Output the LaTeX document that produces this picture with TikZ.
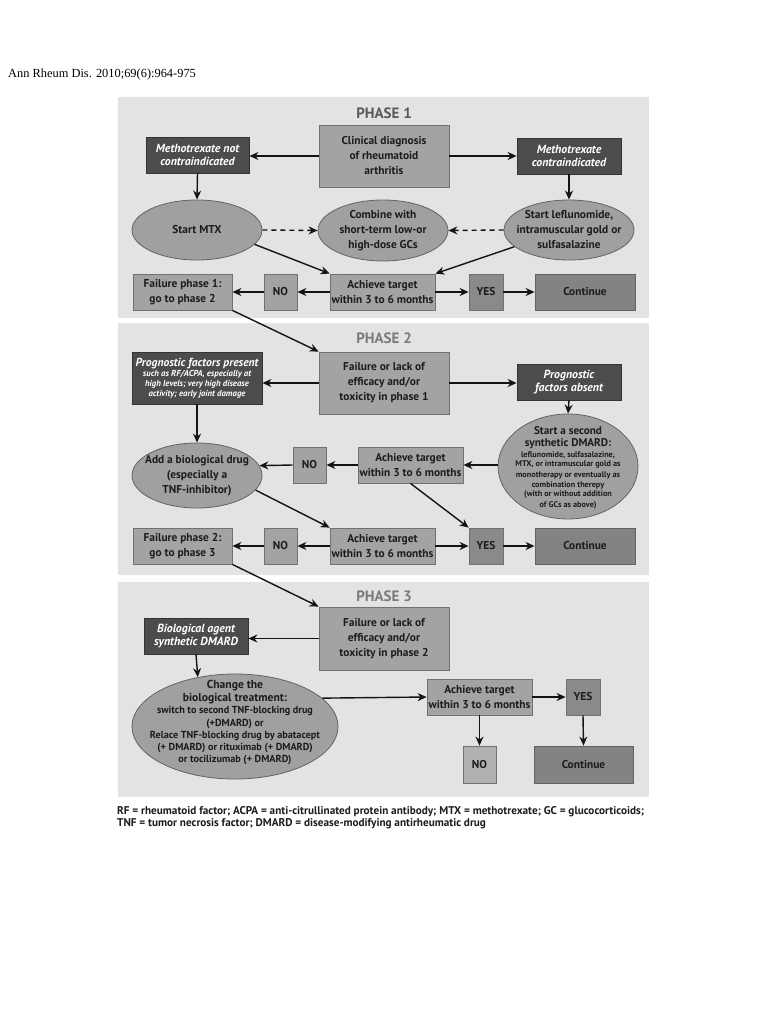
\documentclass[tikz,border=0pt]{standalone}
\usepackage{fontspec}
\setmainfont{PT Sans}
\newfontfamily\serifhdr{Liberation Serif}
\usetikzlibrary{shapes.geometric,arrows.meta}
\definecolor{panelgray}{HTML}{E3E3E3}
\definecolor{midgray}{HTML}{A3A3A3}
\definecolor{midborder}{HTML}{717171}
\definecolor{ellgray}{HTML}{A0A0A0}
\definecolor{ellborder}{HTML}{636363}
\definecolor{darkgray}{HTML}{4C4C4C}
\definecolor{darkborder}{HTML}{333333}
\definecolor{yesgray}{HTML}{8A8A8A}
\definecolor{contgray}{HTML}{838383}
\definecolor{txtgray}{HTML}{1C1C1C}
\definecolor{titleA}{HTML}{5A5A5A}
\definecolor{titleB}{HTML}{7A7A7A}
\newcommand\bigf{\fontsize{11.2}{12.8}\selectfont}
\newcommand\smallf{\fontsize{8.2}{10}\selectfont}
\newcommand\medf{\fontsize{10.2}{12.3}\selectfont}
\begin{document}
\begin{tikzpicture}[x=1pt,y=-1pt,
  panel/.style={fill=panelgray, draw=none},
  ptitle/.style={font=\bfseries\fontsize{15}{17}\selectfont, inner sep=0},
  midbox/.style={rectangle, draw=midborder, fill=midgray, line width=0.8pt, inner sep=0,
     text=txtgray, align=center, font=\bfseries\fontsize{11.4}{15}\selectfont},
  yesbox/.style={midbox, fill=yesgray},
  contbox/.style={midbox, fill=contgray, draw=ellborder},
  darkbox/.style={rectangle, draw=darkborder, fill=darkgray, line width=0.8pt, inner sep=0,
     text=white, align=center, font=\bfseries\itshape\fontsize{11.8}{13.5}\selectfont},
  ell/.style={ellipse, draw=ellborder, fill=ellgray, line width=0.8pt, inner sep=0},
  etext/.style={text=txtgray, align=center, inner sep=0, font=\bfseries\fontsize{11.4}{15}\selectfont},
  arr/.style={draw=black!92, line width=1.4pt, -{Stealth[length=9pt,width=8pt]}},
  darr/.style={arr, dash pattern=on 5pt off 4pt}]
\useasboundingbox (0,0) rectangle (768,1024);
\fill[white] (0,0) rectangle (768,1024);

% header
\node[anchor=base west, inner sep=0, font=\serifhdr\fontsize{12.4}{14}\selectfont] (hdr) at (8,78) {Ann Rheum Dis. 2010;69(6):964-975};

% panels
\path[panel] (118,97) rectangle (649,318);
\path[panel] (118,323) rectangle (649,575);
\path[panel] (118,582) rectangle (649,797);

% ---------------- PHASE 1
\node[ptitle, text=titleA] (t1) at (384,113) {PHASE 1};
\node[midbox, minimum width=130, minimum height=62] (clin) at (384,156) {Clinical diagnosis\\of rheumatoid\\arthritis};
\node[darkbox, minimum width=103, minimum height=36] (mtxno) at (197.5,155) {Methotrexate not\\contraindicated};
\node[darkbox, minimum width=104, minimum height=36] (mtxc) at (569,156) {Methotrexate\\contraindicated};
\node[ell, minimum width=130, minimum height=60] (smtx) at (197,230) {};
\node[etext] (smtxt) at (smtx) {Start MTX};
\node[ell, minimum width=130, minimum height=61] (comb) at (383,230.5) {};
\node[etext] (combt) at (comb) {Combine with\\short-term low-or\\high-dose GCs};
\node[ell, minimum width=130, minimum height=60] (slef) at (569,230) {};
\node[etext] (sleft) at (slef) {Start leflunomide,\\intramuscular gold or\\sulfasalazine};
\node[midbox, minimum width=105, minimum height=36] (ach1) at (382.5,292) {Achieve target\\within 3 to 6 months};
\node[midbox, minimum width=33, minimum height=36] (no1) at (280.5,292) {NO};
\node[yesbox, minimum width=34, minimum height=36] (yes1) at (486,292) {YES};
\node[contbox, minimum width=100, minimum height=36] (cont1) at (585,292) {Continue};
\node[midbox, minimum width=99, minimum height=36] (fail1) at (182.5,292) {Failure phase 1:\\go to phase 2};

% ---------------- PHASE 2
\node[ptitle, text=titleB] (t2) at (384,338) {PHASE 2};
\node[midbox, minimum width=130, minimum height=62] (fl2) at (384,383) {Failure or lack of\\efficacy and/or\\toxicity in phase 1};
\node[darkbox, minimum width=130, minimum height=52, text width=130, align=flush center] (ppres) at (197,378)
  {{\fontsize{11.6}{13}\selectfont Prognostic factors present\par}{\fontsize{8.7}{10}\selectfont such as RF/ACPA, especially at\\high levels; very high disease\\activity; early joint damage\par}};
\node[darkbox, minimum width=104, minimum height=36] (pabs) at (569,382) {Prognostic\\factors absent};
\node[ell, minimum width=130, minimum height=65] (addbio) at (197,475.5) {};
\node[etext] (addbiot) at (addbio) {Add a biological drug\\(especially a\\TNF-inhibitor)};
\node[ell, minimum width=140, minimum height=105] (start2) at (568,466.5) {};
\node[etext, text width=140, align=flush center] (start2t) at (568,467.5)
  {{\bigf Start a second\\synthetic DMARD:\par}{\smallf leflunomide, sulfasalazine,\\MTX, or intramuscular gold as\\monotherapy or eventually as\\combination therepy\\(with or without addition\\of GCs as above)\par}};
\node[midbox, minimum width=105, minimum height=36] (ach2m) at (410.5,465) {Achieve target\\within 3 to 6 months};
\node[midbox, minimum width=33, minimum height=36] (no2m) at (309.5,465) {NO};
\node[midbox, minimum width=105, minimum height=36] (ach2b) at (382.5,546) {Achieve target\\within 3 to 6 months};
\node[midbox, minimum width=33, minimum height=36] (no2b) at (280.5,546) {NO};
\node[yesbox, minimum width=34, minimum height=36] (yes2) at (486,546) {YES};
\node[contbox, minimum width=100, minimum height=36] (cont2) at (585,546) {Continue};
\node[midbox, minimum width=99, minimum height=36] (fail2) at (182.5,546) {Failure phase 2:\\go to phase 3};

% ---------------- PHASE 3
\node[ptitle, text=titleB] (t3) at (384,596) {PHASE 3};
\node[midbox, minimum width=130, minimum height=63] (fl3) at (384,638.5) {Failure or lack of\\efficacy and/or\\toxicity in phase 2};
\node[darkbox, minimum width=104, minimum height=36] (bio) at (196,636) {Biological agent\\synthetic DMARD};
\node[ell, minimum width=206, minimum height=105] (change) at (235,726.5) {};
\node[etext, text width=206, align=flush center] (changet) at (235,722.5)
  {{\fontsize{11.6}{13.3}\selectfont Change the\\biological treatment:\par}{\medf switch to second TNF-blocking drug\\(+DMARD) or\\Relace TNF-blocking drug by abatacept\\(+ DMARD) or rituximab (+ DMARD)\\or tocilizumab (+ DMARD)\par}};
\node[midbox, minimum width=105, minimum height=36] (ach3) at (479.5,697) {Achieve target\\within 3 to 6 months};
\node[yesbox, minimum width=34, minimum height=36] (yes3) at (583,697) {YES};
\node[midbox, minimum width=33, minimum height=37, fill=midgray!85!white] (no3) at (479.5,764.5) {NO};
\node[contbox, minimum width=99, minimum height=37] (cont3) at (583.5,764.5) {Continue};

% footer
\node[anchor=base west, inner sep=0, text=txtgray, font=\bfseries\fontsize{11.2}{12}\selectfont] (foot1) at (117,814)
  {RF = rheumatoid factor; ACPA = anti-citrullinated protein antibody; MTX = methotrexate; GC = glucocorticoids;};
\node[anchor=base west, inner sep=0, text=txtgray, font=\bfseries\fontsize{11.2}{12}\selectfont] (foot2) at (117,826.5)
  {TNF = tumor necrosis factor; DMARD = disease-modifying antirheumatic drug};

% ---------------- connectors phase 1
\draw[arr] (clin.west) -- (clin.west -| mtxno.east);
\draw[arr] (clin.east) -- (clin.east -| mtxc.west);
\draw[arr] (mtxno.south) -- (smtx.north);
\draw[arr] (mtxc.south) -- (slef.north);
\draw[darr] (smtx.east) -- (comb.west);
\draw[darr] (slef.west) -- (comb.east);
\draw[arr] (smtx.-14) -- (ach1.north west);
\draw[arr] (slef.197) -- (ach1.north east);
\draw[arr] (ach1.west) -- (no1.east);
\draw[arr] (no1.west) -- (fail1.east);
\draw[arr] (ach1.east) -- (yes1.west);
\draw[arr] (yes1.east) -- (cont1.west);
\draw[arr] (fail1.south east) -- (fl2.north west);

% ---------------- connectors phase 2
\draw[arr] (fl2.west) -- (fl2.west -| ppres.east);
\draw[arr] (fl2.east) -- (fl2.east -| pabs.west);
\draw[arr] (ppres.south) -- (addbio.north);
\draw[arr] (pabs.south) -- (start2.north);
\draw[arr] (ach2m.east -| start2.west) -- (ach2m.east);
\draw[arr] (ach2m.west) -- (no2m.east);
\draw[arr] (no2m.west) -- (addbio.9);
\draw[arr] (ach2m.south) -- (yes2.north west);
\draw[arr] (addbio.-14) -- (ach2b.north west);
\draw[arr] (ach2b.west) -- (no2b.east);
\draw[arr] (no2b.west) -- (fail2.east);
\draw[arr] (ach2b.east) -- (yes2.west);
\draw[arr] (yes2.east) -- (cont2.west);
\draw[arr] (fail2.south east) -- (fl3.north west);

% ---------------- connectors phase 3
\draw[arr] (fl3.west) -- (fl3.west -| bio.east);
\draw[arr] (bio.south) -- (change.127.6);
\draw[arr] (change.18.6) -- (ach3.west);
\draw[arr] (ach3.east) -- (yes3.west);
\draw[arr] (ach3.south) -- (no3.north);
\draw[arr] (yes3.south) -- (cont3.north);
\end{tikzpicture}
\end{document}
